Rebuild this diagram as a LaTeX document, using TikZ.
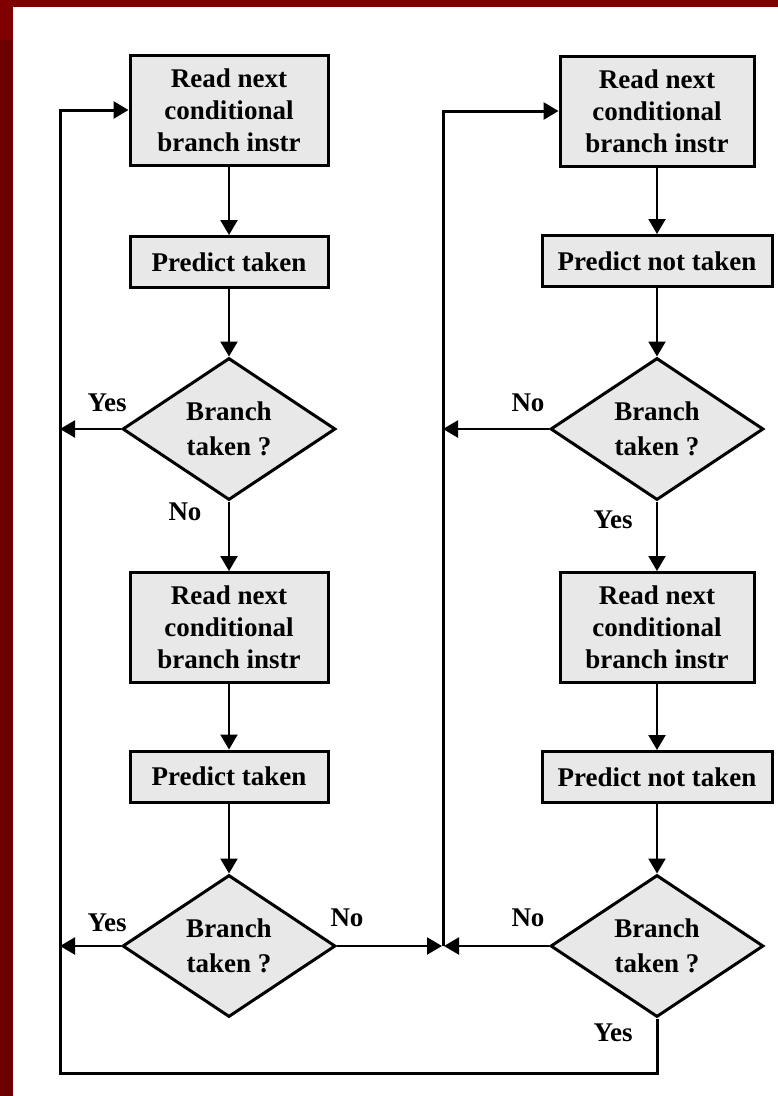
\documentclass[tikz,border=0pt]{standalone}
\usepackage{fontspec}
\setmainfont{Liberation Serif}
\usetikzlibrary{shapes.geometric,arrows.meta}
\definecolor{frame}{RGB}{128,0,0}
\definecolor{framedark}{RGB}{108,0,0}
\definecolor{boxfill}{RGB}{232,232,232}
\begin{document}
\begin{tikzpicture}[x=1pt,y=-1pt,
  every node/.style={font=\fontsize{27}{32}\selectfont\bfseries},
  box/.style={draw, line width=3pt, fill=boxfill, align=center, inner sep=0pt},
  readbox/.style={box, minimum height=110pt},
  predbox/.style={box, minimum height=51pt},
  decision/.style={diamond, draw, line width=3pt, fill=boxfill, align=center, inner sep=0pt,
    minimum width=213pt, minimum height=142pt, font=\fontsize{27}{35}\selectfont\bfseries},
  conn/.style={line width=2.2pt, -{Triangle[length=15pt,width=17pt]}},
  loopline/.style={line width=3pt, -{Triangle[length=15pt,width=17pt]}},
  lbl/.style={inner sep=0pt}
]
% frame
\fill[white] (0,0) rectangle (778,1096);
\fill[frame] (0,0) rectangle (778,7);
\fill[frame] (0,0) rectangle (13,40);
\fill[framedark] (0,40) rectangle (13,1096);
\useasboundingbox (0,0) rectangle (778,1096);

% left column
\node[readbox, minimum width=198pt] (L1) at (229,110) {Read next\\conditional\\branch instr};
\node[predbox, minimum width=198pt] (L2) at (229,262) {Predict taken};
\node[decision] (L3) at (229,429) {Branch\\taken ?};
\node[readbox, minimum width=198pt] (L4) at (229,627.5) {Read next\\conditional\\branch instr};
\node[predbox, minimum width=198pt] (L5) at (229,776.5) {Predict taken};
\node[decision] (L6) at (229,946) {Branch\\taken ?};

% right column
\node[readbox, minimum width=194pt] (R1) at (657,111) {Read next\\conditional\\branch instr};
\node[predbox, minimum width=230pt] (R2) at (657,261) {Predict not taken};
\node[decision] (R3) at (657,429) {Branch\\taken ?};
\node[readbox, minimum width=194pt] (R4) at (657,627.5) {Read next\\conditional\\branch instr};
\node[predbox, minimum width=230pt] (R5) at (657,777) {Predict not taken};
\node[decision] (R6) at (657,946) {Branch\\taken ?};

% labels
\node[lbl] (y1) at (107,403) {Yes};
\node[lbl] (n1) at (185,512) {No};
\node[lbl] (y2) at (107,923) {Yes};
\node[lbl] (n2) at (347,918) {No};
\node[lbl] (n3) at (528,403) {No};
\node[lbl] (y3) at (613,520) {Yes};
\node[lbl] (n4) at (528,918) {No};
\node[lbl] (y4) at (613,1033) {Yes};

% coordinates
\coordinate (bl) at (60,1073);
\coordinate (yl1) at (60,429);
\coordinate (yl2) at (60,946);
\coordinate (jn) at (443,946);
\coordinate (jnL) at (442,946);
\coordinate (jnR) at (444,946);
\coordinate (nr1) at (443,429);

% vertical flow
\draw[conn] (L1) -- (L2);
\draw[conn] (L2) -- (L3);
\draw[conn] (L3) -- (L4);
\draw[conn] (L4) -- (L5);
\draw[conn] (L5) -- (L6);
\draw[conn] (R1) -- (R2);
\draw[conn] (R2) -- (R3);
\draw[conn] (R3) -- (R4);
\draw[conn] (R4) -- (R5);
\draw[conn] (R5) -- (R6);

% side branches
\draw[conn] (L3.west) -- (yl1);
\draw[conn] (L6.west) -- (yl2);
\draw[conn] (L6.east) -- (jnL);
\draw[conn] (R3.west) -- (nr1);
\draw[conn] (R6.west) -- (jnR);

% loops
\draw[loopline] (R6.south) |- (bl) |- (L1.west);
\draw[loopline] (jn) |- (R1.west);
\end{tikzpicture}
\end{document}
